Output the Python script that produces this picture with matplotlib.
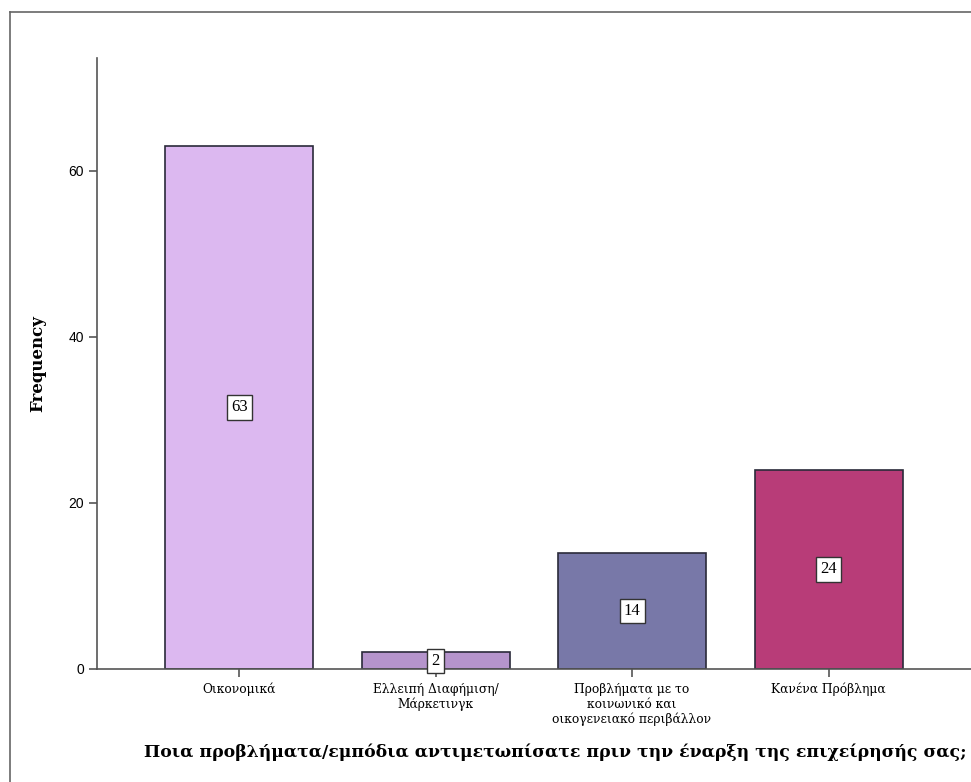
import numpy as np
import matplotlib.pyplot as plt
from matplotlib.lines import Line2D

#Data
categories = [
    "Οικονομικά",
    "Ελλειπή Διαφήμιση/\nΜάρκετινγκ",
    "Προβλήματα με το\nκοινωνικό και\nοικογενειακό περιβάλλον",
    "Κανένα Πρόβλημα",
]
counts = [63, 2, 14, 24]
bar_colors = ["#dcb8f0", "#b594cc", "#7878a8", "#b83c78"]
y_ticks = [0, 20, 40, 60]
x_title = "Ποια προβλήματα/εμπόδια αντιμετωπίσατε πριν την έναρξη της επιχείρησής σας;"
y_title = "Frequency"

serif = ["DejaVu Serif"]

#Figure
fig = plt.figure(figsize=(9.71, 7.82), dpi=100)
ax = fig.add_axes([97 / 971, 113 / 782, (971 - 97) / 971, 611 / 782])

x = np.arange(len(categories))
ax.bar(x, counts, width=0.753, color=bar_colors, edgecolor="#2a2a3a", linewidth=1.2, zorder=2)

#Value boxes in the middle of each bar
for xi, v in zip(x, counts):
    ax.text(xi, v / 2, str(v), ha="center", va="center", fontsize=12, family=["Liberation Serif"],
            bbox=dict(boxstyle="square,pad=0.25", facecolor="white", edgecolor="#333333", linewidth=1),
            zorder=3)

ax.set_xlim(-0.723, 3.725)
ax.set_ylim(0, 73.6)
ax.set_yticks(y_ticks)
ax.set_yticklabels([str(t) for t in y_ticks], fontsize=10, family=["Liberation Sans", "DejaVu Sans"])
ax.set_xticks(x)
ax.set_xticklabels(categories, fontsize=8.8, family=serif, linespacing=1.2)

ax.spines["top"].set_visible(False)
ax.spines["right"].set_visible(False)
for s in ["left", "bottom"]:
    ax.spines[s].set_color("#555555")
    ax.spines[s].set_linewidth(1.2)
ax.tick_params(axis="both", direction="out", length=6, width=1.2, colors="#555555", labelcolor="black")
ax.tick_params(axis="x", pad=4)

ax.set_ylabel(y_title, fontsize=12, fontweight="bold", family=serif, labelpad=16)
fig.text(555 / 971, 1 - 752 / 782, x_title, ha="center", va="center",
         fontsize=12.4, fontweight="bold", family=serif)

#Outer frame (clipped on right and bottom like the original)
fig.add_artist(Line2D([10 / 971, 10 / 971], [0, 1 - 12 / 782], color="#666666", linewidth=1.2))
fig.add_artist(Line2D([10 / 971, 1], [1 - 12 / 782, 1 - 12 / 782], color="#666666", linewidth=1.2))

fig.savefig("out.png", dpi=100)
